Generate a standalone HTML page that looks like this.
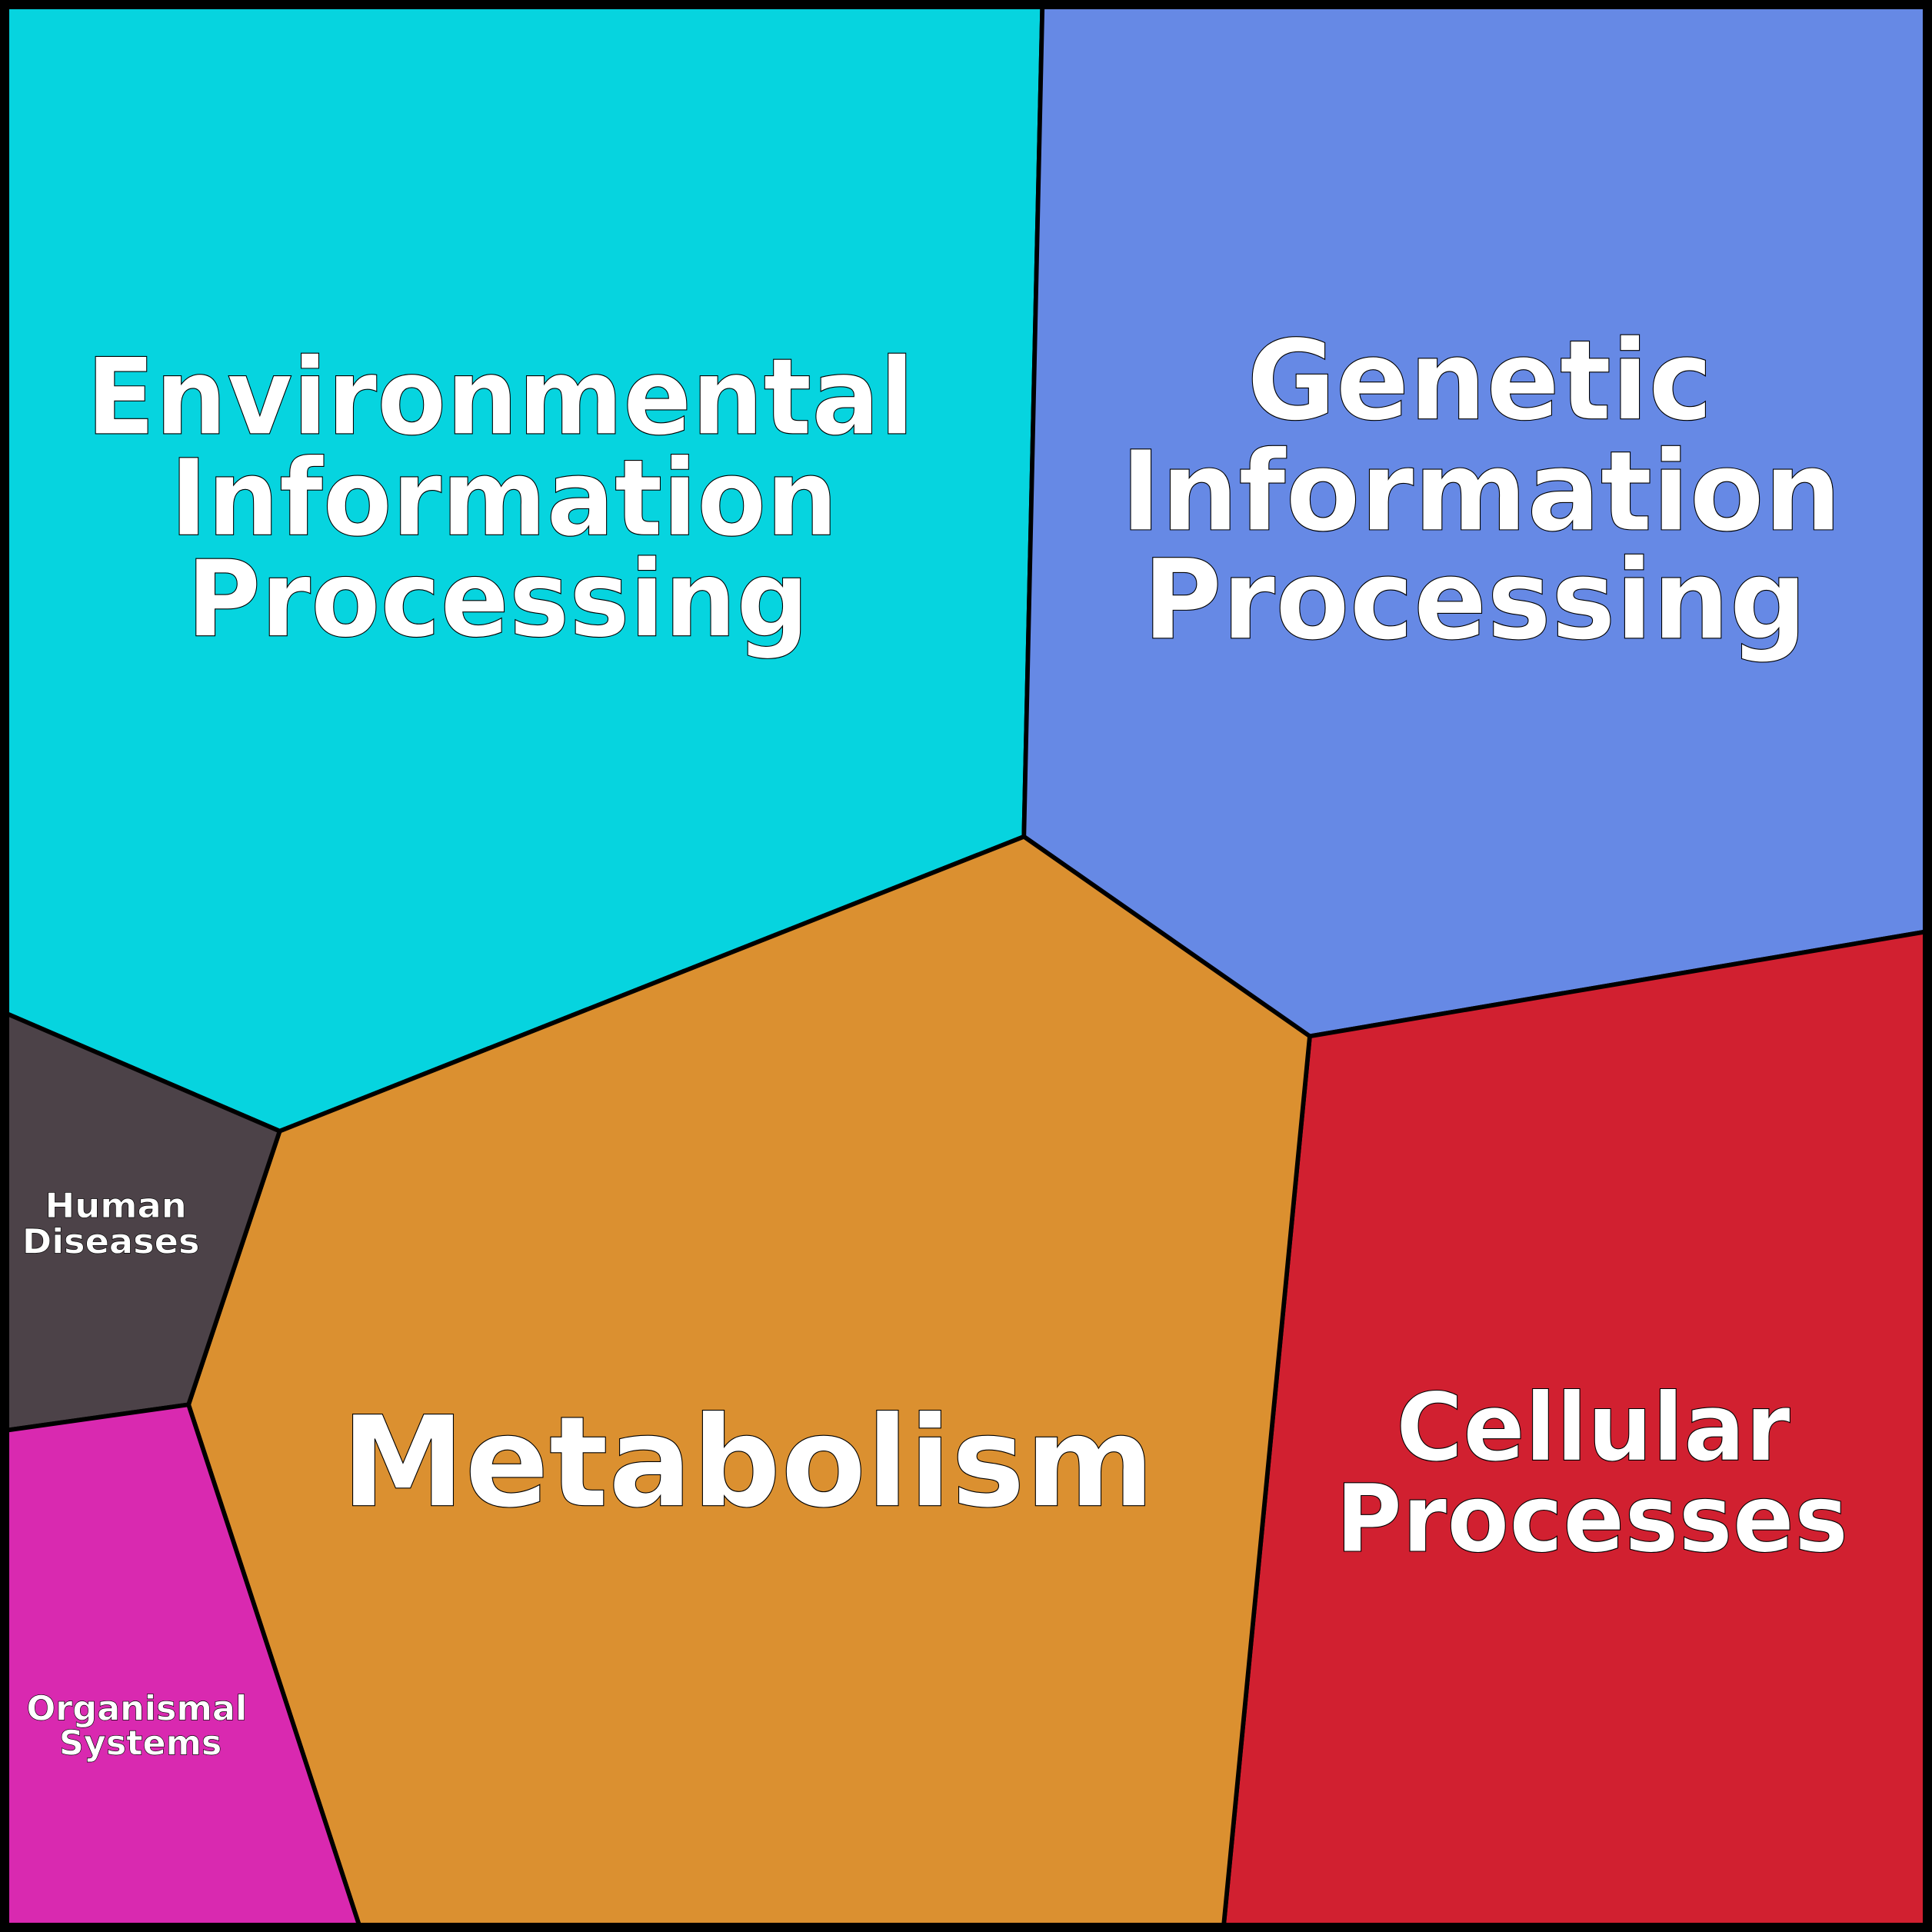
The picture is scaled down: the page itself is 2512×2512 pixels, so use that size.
<!DOCTYPE html>
<html><head><meta charset="utf-8">
<style>html,body{margin:0;padding:0;background:#000}svg{display:block}</style>
</head><body>
<svg width="2512" height="2512" viewBox="0 0 1568 1568" xmlns="http://www.w3.org/2000/svg">
<g stroke="#000" stroke-width="3.6" stroke-linejoin="round">
<polygon fill="#06d4df" points="4,4 846,4 831,679 227,918 4,822"/>
<polygon fill="#6689e5" points="846,4 1564,4 1564,756 1063,841 831,679"/>
<polygon fill="#d12030" points="1063,841 1564,756 1564,1564 993,1564"/>
<polygon fill="#db9030" points="831,679 1063,841 993,1564 292,1564 153,1140 227,918"/>
<polygon fill="#4c4248" points="4,822 227,918 153,1140 4,1161"/>
<polygon fill="#d929b0" points="4,1161 153,1140 292,1564 4,1564"/>
</g>
<rect x="3.75" y="3.75" width="1560.5" height="1560.5" fill="none" stroke="#000" stroke-width="7.5"/>
<g font-family="'DejaVu Sans','Liberation Sans',sans-serif" font-weight="bold" fill="#fff" stroke="#000" stroke-width="0.7" text-anchor="middle" lengthAdjust="spacingAndGlyphs">
<g font-size="86">
<text x="406" y="352" textLength="672" lengthAdjust="spacingAndGlyphs">Environmental</text>
<text x="409" y="434" textLength="542" lengthAdjust="spacingAndGlyphs">Information</text>
<text x="404" y="516" textLength="505" lengthAdjust="spacingAndGlyphs">Processing</text>
</g>
<g font-size="90">
<text x="1201" y="340" textLength="378" lengthAdjust="spacingAndGlyphs">Genetic</text>
<text x="1202" y="430" textLength="585" lengthAdjust="spacingAndGlyphs">Information</text>
<text x="1197" y="518" textLength="539" lengthAdjust="spacingAndGlyphs">Processing</text>
</g>
<text x="607" y="1222" font-size="102" textLength="660" lengthAdjust="spacingAndGlyphs">Metabolism</text>
<g font-size="76">
<text x="1293" y="1185" textLength="320" lengthAdjust="spacingAndGlyphs">Cellular</text>
<text x="1292" y="1259" textLength="416" lengthAdjust="spacingAndGlyphs">Processes</text>
</g>
<g font-size="28" stroke-width="0.4">
<text x="94" y="988" textLength="115" lengthAdjust="spacingAndGlyphs">Human</text>
<text x="90" y="1017" textLength="144" lengthAdjust="spacingAndGlyphs">Diseases</text>
<text x="111" y="1396" textLength="179" lengthAdjust="spacingAndGlyphs">Organismal</text>
<text x="114" y="1424" textLength="132" lengthAdjust="spacingAndGlyphs">Systems</text>
</g>
</g>
</svg>
</body></html>
